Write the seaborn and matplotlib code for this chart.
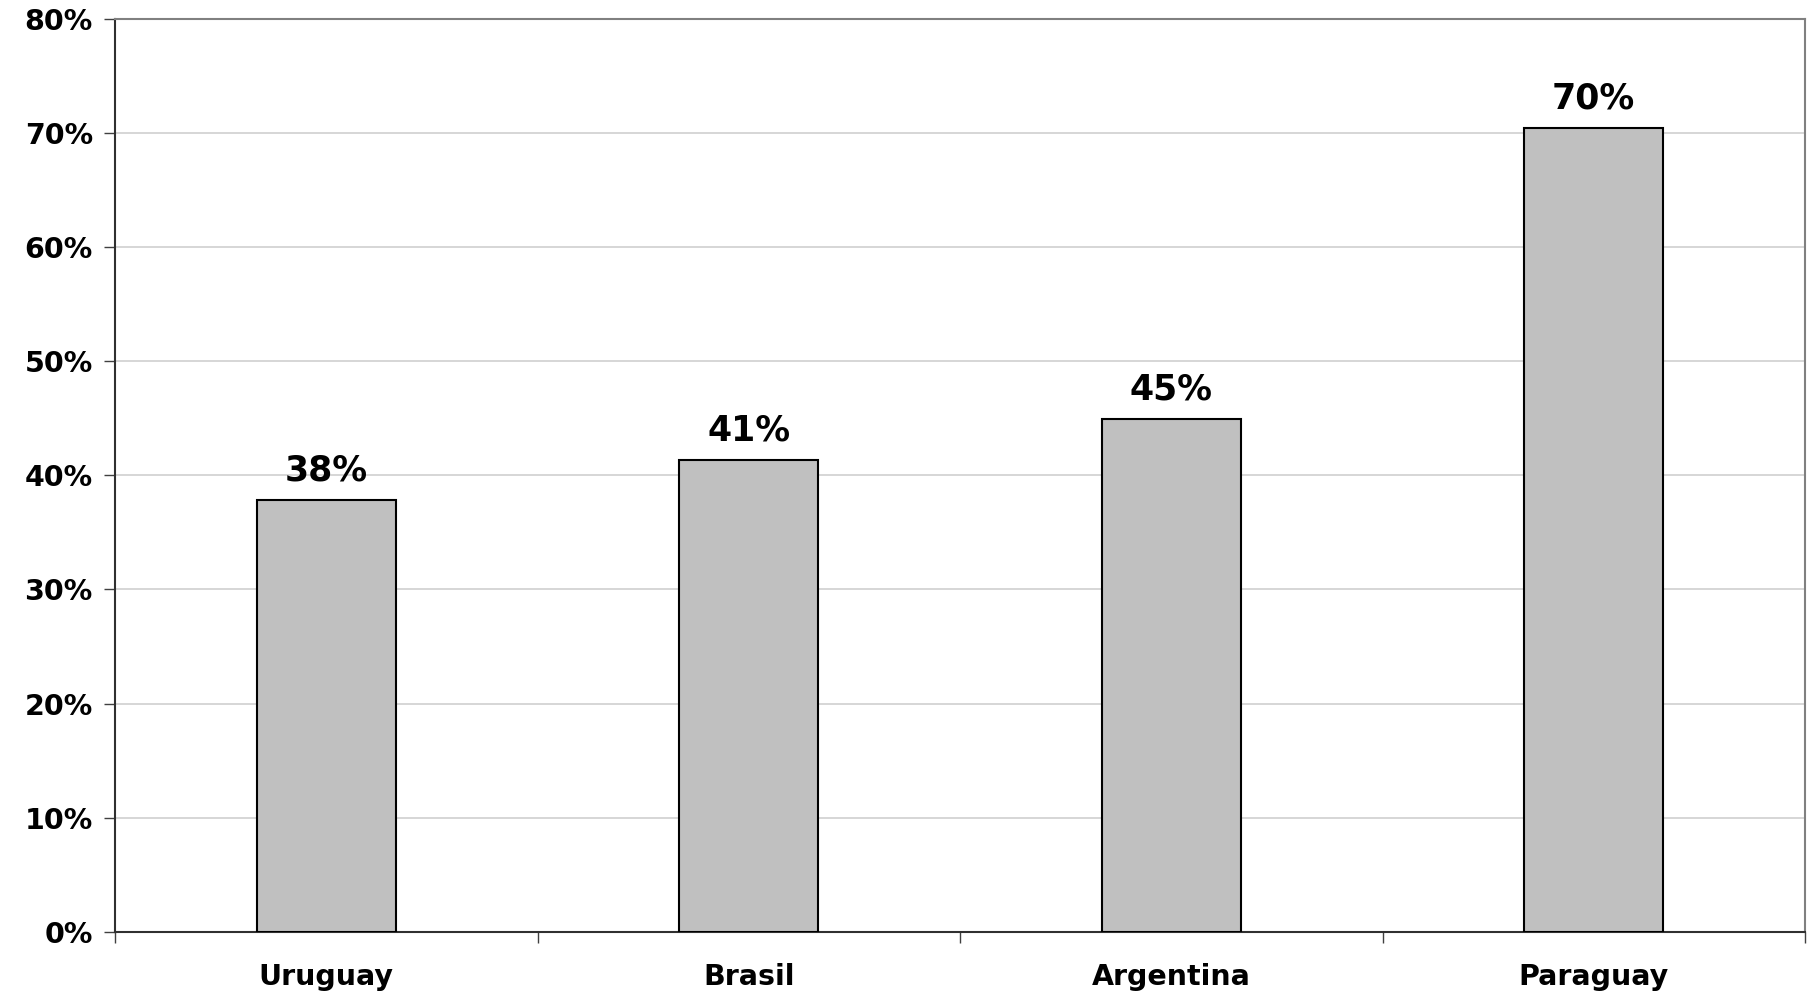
import matplotlib
matplotlib.use("Agg")
import matplotlib.pyplot as plt
import seaborn as sns
import pandas as pd
from matplotlib.ticker import FixedLocator, FuncFormatter

categories = ["Uruguay", "Brasil", "Argentina", "Paraguay"]
values = [37.8, 41.3, 44.9, 70.4]
y_ticks = [0, 10, 20, 30, 40, 50, 60, 70, 80]

sns.set_theme(style="white")
plt.rcParams['font.family'] = ['DejaVu Sans']
plt.rcParams['text.color'] = 'black'
plt.rcParams['xtick.color'] = 'black'
plt.rcParams['ytick.color'] = 'black'

df = pd.DataFrame({"pais": categories, "valor": values})

fig = plt.figure(figsize=(18.08, 9.93), dpi=100)
ax = fig.add_axes([115/1808, 1-932/993, (1805-115)/1808, (932-18.5)/993])

sns.barplot(data=df, x="pais", y="valor", color="#c0c0c0", width=0.33,
            edgecolor="black", linewidth=1.5, saturation=1, ax=ax, zorder=3)

ax.set_ylim(0, 80)
ax.set_xlim(-0.5, len(categories) - 0.5)
ax.set_yticks(y_ticks)
ax.yaxis.set_major_formatter(FuncFormatter(lambda v, p: f"{v:.0f}%"))
ax.grid(axis="y", color="#d0d0d0", linewidth=1.2, zorder=0)
ax.set_axisbelow(True)

# category boundaries as major ticks, labels at centers as minor
ax.xaxis.set_major_locator(FixedLocator([i - 0.5 for i in range(len(categories) + 1)]))
ax.xaxis.set_minor_locator(FixedLocator(list(range(len(categories)))))
ax.set_xticklabels([], minor=False)
ax.set_xticklabels(categories, minor=True, fontsize=20.5, fontweight="bold", color="black")
ax.tick_params(axis="x", which="major", direction="out", length=8, width=1, color="#404040", bottom=True)
ax.tick_params(axis="x", which="minor", length=0, pad=22)
ax.tick_params(axis="y", direction="out", length=8, width=1, color="#404040", left=True,
               labelsize=20.5, pad=8, labelcolor="black")
for lab in ax.get_yticklabels():
    lab.set_fontweight("bold")

ax.set_xlabel("")
ax.set_ylabel("")

for s in ["left", "bottom"]:
    ax.spines[s].set_color("#303030")
    ax.spines[s].set_linewidth(1.5)
for s in ["top", "right"]:
    ax.spines[s].set_color("#808080")
    ax.spines[s].set_linewidth(1.5)

for cont in ax.containers:
    ax.bar_label(cont, fmt="{:.0f}%", padding=9, fontsize=25, fontweight="bold", color="black")

fig.savefig("out.png", dpi=100)
